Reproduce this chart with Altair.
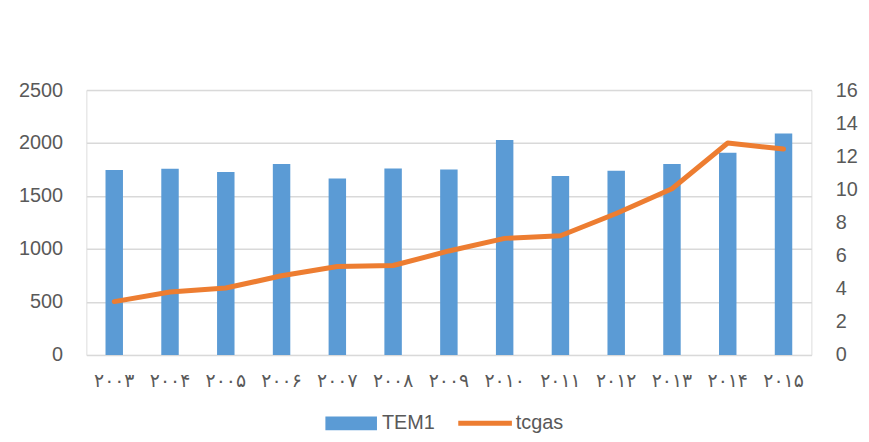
import altair as alt
import pandas as pd

years = ["۲۰۰۳", "۲۰۰۴", "۲۰۰۵", "۲۰۰۶", "۲۰۰۷", "۲۰۰۸", "۲۰۰۹",
         "۲۰۱۰", "۲۰۱۱", "۲۰۱۲", "۲۰۱۳", "۲۰۱۴", "۲۰۱۵"]
tem1 = [1745, 1757, 1726, 1801, 1666, 1760, 1750, 2028, 1688, 1738, 1801, 1909, 2091]
tcgas = [3.22, 3.80, 4.04, 4.78, 5.34, 5.40, 6.28, 7.04, 7.20, 8.54, 10.04, 12.80, 12.44]
series = ["TEM1", "tcgas"]
series_colors = ["#5B9BD5", "#ED7D31"]
series_shapes = ["M-1,-0.27H1V0.27H-1Z", "M-1.04,-0.096H1.04V0.096H-1.04Z"]
left_ticks = [0, 500, 1000, 1500, 2000, 2500]
right_ticks = [0, 2, 4, 6, 8, 10, 12, 14, 16]

df = pd.DataFrame({"year": years, "TEM1": tem1, "tcgas": tcgas})
leg_df = pd.DataFrame({"series": series})

LABEL = "#595959"
FONT = "Liberation Sans"

x = alt.X("year:N", sort=years, title=None,
          scale=alt.Scale(paddingInner=0.687, paddingOuter=0.3435),
          axis=alt.Axis(labelAngle=0, ticks=False, domain=False, labelPadding=17,
                        labelFont="DejaVu Sans", labelFontSize=19, labelColor=LABEL))

bars = alt.Chart(df).mark_bar(color="#5B9BD5").encode(
    x=x,
    y=alt.Y("TEM1:Q", title=None,
            scale=alt.Scale(domain=[0, 2500], nice=False),
            axis=alt.Axis(orient="left", values=left_ticks, format="d", ticks=False,
                          domain=False, labelPadding=24, labelFont=FONT,
                          labelFontSize=20, labelColor=LABEL, grid=True,
                          gridColor="#D9D9D9", gridWidth=1.5)),
)

line = alt.Chart(df).mark_line(color="#ED7D31", strokeWidth=5,
                               strokeCap="round", strokeJoin="round").encode(
    x=x,
    y=alt.Y("tcgas:Q", title=None,
            scale=alt.Scale(domain=[0, 16], nice=False),
            axis=alt.Axis(orient="right", values=right_ticks, format="d", ticks=False,
                          domain=False, labelPadding=24, labelFont=FONT,
                          labelFontSize=20, labelColor=LABEL, grid=False)),
)

# Legend-only layer: rows are filtered out, the legend comes from the fixed scale domain
legend_layer = alt.Chart(leg_df).mark_point(filled=True, opacity=1).encode(
    color=alt.Color("series:N",
                    scale=alt.Scale(domain=series, range=series_colors),
                    legend=alt.Legend(title=None, orient="none", direction="horizontal",
                                      legendX=241, legendY=310, padding=0,
                                      symbolSize=2704, symbolStrokeWidth=0,
                                      symbolOpacity=1, labelFont=FONT,
                                      labelFontSize=20, labelColor=LABEL,
                                      labelOffset=5, columnPadding=22)),
    shape=alt.Shape("series:N",
                    scale=alt.Scale(domain=series, range=series_shapes)),
).transform_filter("datum.series == 'none'")

chart = alt.layer(bars, line, legend_layer).resolve_scale(
    y="independent"
).properties(
    width=731, height=267,
    autosize=alt.AutoSizeParams(type="none"),
    padding={"left": 79, "top": 81, "right": 50, "bottom": 78},
).configure_view(stroke=None).configure(background="white")

chart.save("out.html", embed_options={"renderer": "svg", "actions": False})
